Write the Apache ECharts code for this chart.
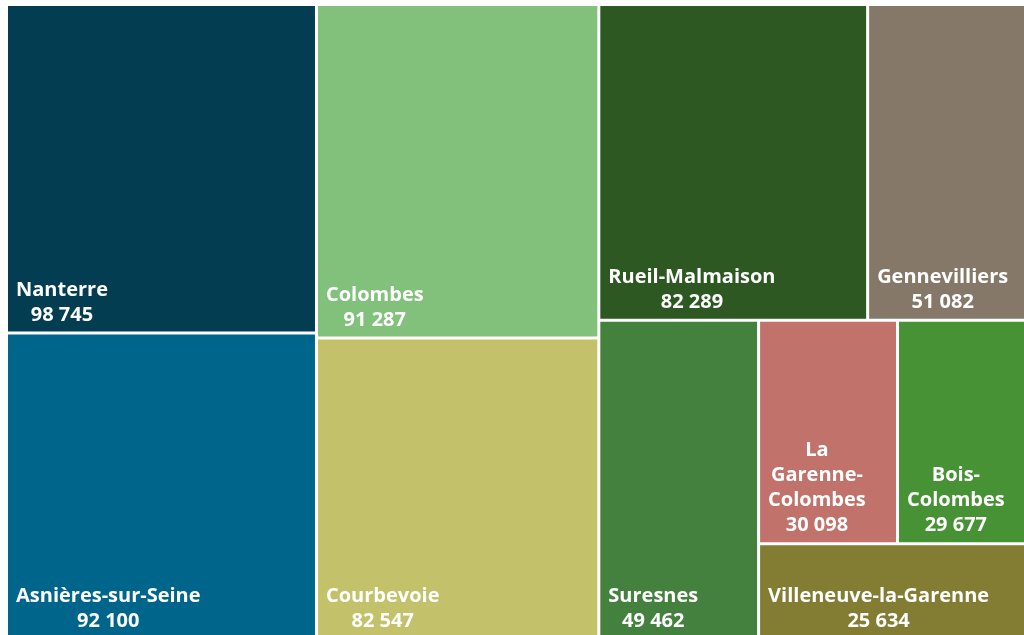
<!DOCTYPE html>
<html>
<head>
<meta charset="utf-8">
<script src="https://cdn.jsdelivr.net/npm/echarts@6/dist/echarts.min.js"></script>
<style>
  html, body { margin: 0; padding: 0; background: #fff; }
  #chart { width: 1024px; height: 635px; }
</style>
</head>
<body>
<div id="chart"></div>
<script>
// communes et population
const communes = [
  "Nanterre", "Asnières-sur-Seine", "Colombes", "Courbevoie", "Rueil-Malmaison",
  "Gennevilliers", "Suresnes", "La Garenne-Colombes", "Bois-Colombes", "Villeneuve-la-Garenne"
];
const labels = [
  "Nanterre", "Asnières-sur-Seine", "Colombes", "Courbevoie", "Rueil-Malmaison",
  "Gennevilliers", "Suresnes", "La\nGarenne-\nColombes", "Bois-\nColombes", "Villeneuve-la-Garenne"
];
const population = [98745, 92100, 91287, 82547, 82289, 51082, 49462, 30098, 29677, 25634];
const colors = [
  "#023d52", "#00658a", "#82c17c", "#c3c26a", "#2d5821",
  "#857868", "#44803e", "#c0726b", "#489236", "#827d33"
];

const FONT_FAMILY = "Open Sans";
const FONT_SIZE = 20;
const FONT_WEIGHT = "bold";
const PAD_LEFT = 8;

function fmt(v) {
  return String(v).replace(/\B(?=(\d{3})+(?!\d))/g, " ");
}

// largeur du bloc de texte, pour centrer les lignes entre elles
const ctx = document.createElement("canvas").getContext("2d");
ctx.font = FONT_WEIGHT + " " + FONT_SIZE + "px '" + FONT_FAMILY + "'";
function blockWidth(text) {
  return Math.max(...text.split("\n").map((l) => ctx.measureText(l).width));
}

const chart = echarts.init(document.getElementById("chart"));
chart.setOption({
  animation: false,
  backgroundColor: "#fff",
  series: [
    {
      type: "treemap",
      left: 8,
      top: 6,
      right: -9,
      bottom: -3,
      squareRatio: 1,
      roam: false,
      nodeClick: false,
      breadcrumb: { show: false },
      itemStyle: { gapWidth: 3, borderWidth: 0 },
      label: {
        show: true,
        color: "#fff",
        fontFamily: FONT_FAMILY,
        fontWeight: FONT_WEIGHT,
        fontSize: FONT_SIZE,
        lineHeight: 25,
        align: "center",
        verticalAlign: "bottom",
        overflow: "none",
        formatter: (p) => labels[communes.indexOf(p.name)] + "\n" + fmt(p.value)
      },
      emphasis: { disabled: true },
      data: communes.map((c, i) => {
        const w = blockWidth(labels[i] + "\n" + fmt(population[i]));
        return {
          name: c,
          value: population[i],
          itemStyle: { color: colors[i] },
          label: { position: [PAD_LEFT + w / 2, "100%"], offset: [0, 1] }
        };
      })
    }
  ]
});
</script>
</body>
</html>
